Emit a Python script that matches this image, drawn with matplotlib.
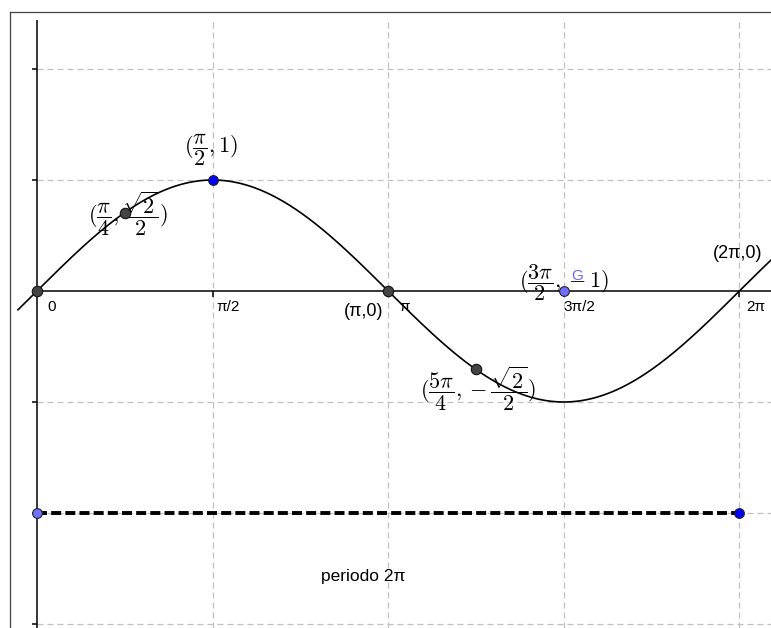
import numpy as np
import matplotlib.pyplot as plt
from matplotlib.lines import Line2D

plt.rcParams['mathtext.fontset'] = 'cm'
plt.rcParams['font.family'] = ['Liberation Sans', 'DejaVu Sans']
plt.rcParams['lines.scale_dashes'] = False

# y = sin(x), drawn from a little left of the origin to the right edge
curve_start = -0.17

# labelled points
dark_x = [0, np.pi / 4, np.pi, 5 * np.pi / 4]
dark_y = [0, np.sqrt(2) / 2, 0, -np.sqrt(2) / 2]
peak_x, peak_y = np.pi / 2, 1
g_x, g_y = 3 * np.pi / 2, 0
zero_2pi_x, zero_2pi_y = 2 * np.pi, 0

# period segment
period_x = [0, 2 * np.pi]
period_y = [-2, -2]

x_ticks = [0, np.pi / 2, np.pi, 3 * np.pi / 2, 2 * np.pi]
x_tick_labels = ['0', 'π/2', 'π', '3π/2', '2π']
y_ticks = [2, 1, -1, -2, -3]

# pixel layout of the view (GeoGebra style)
W, H = 771, 628
ox, oy = 37, 291
sx = 175.6 / (np.pi / 2)
sy = 111.0

fig = plt.figure(figsize=(W / 100, H / 100), dpi=100)
ax = fig.add_axes([0, 0, 1, 1])
ax.set_xlim(-ox / sx, (W - ox) / sx)
ax.set_ylim((oy - H) / sy, oy / sy)
ax.axis('off')
xmin, xmax = ax.get_xlim()
ymin, ymax = ax.get_ylim()

# frame of the graphics view
fig.add_artist(Line2D([10 / W, 10 / W], [0, 1 - 12 / H], color='#444444', lw=0.9))
fig.add_artist(Line2D([10 / W, 1], [1 - 12 / H, 1 - 12 / H], color='#444444', lw=0.9))

# grid
grid_kw = dict(color='#c0c0c0', lw=0.9, linestyles=(0, (4.3, 2.9)), zorder=1)
ax.vlines(x_ticks[1:], ymin, (oy - 22) / sy, **grid_kw)
ax.hlines(y_ticks, 0, xmax, **grid_kw)

# axes
ax.hlines(0, 0, xmax, color='black', lw=1.1, zorder=2)
ax.vlines(0, ymin, (oy - 20) / sy, color='black', lw=1.1, zorder=2)
ax.vlines(x_ticks[1:], -6 / sy, 0, color='black', lw=1.1, zorder=2)
ax.hlines(y_ticks, -5 / sx, 0, color='black', lw=1.1, zorder=2)

tick_dx = [10, 4, 11, 0, 7]
for xt, lab, dx in zip(x_ticks, x_tick_labels, tick_dx):
    ax.annotate(lab, (xt, 0), xytext=(dx, -16), textcoords='offset pixels',
                ha='left', va='center', fontsize=11)

# the function
xs = np.linspace(curve_start, xmax, 600)
ax.plot(xs, np.sin(xs), color='black', lw=1.2, zorder=3)

# period segment
ax.plot(period_x, period_y, color='black', lw=2.8, linestyle=(0, (7.2, 3.0)), zorder=3)
ax.plot(period_x[0], period_y[0], 'o', ms=7, mfc='#7070ff', mec='#222222', mew=0.8, zorder=5)
ax.plot(period_x[1], period_y[1], 'o', ms=7, mfc='#0000ff', mec='#222222', mew=0.8, zorder=5)
ax.annotate('periodo 2π', (np.mean(period_x), period_y[0]), xytext=(-25, -63),
            textcoords='offset pixels', ha='center', va='center', fontsize=12.5)

# points
ax.plot(dark_x, dark_y, 'o', ms=7.5, mfc='#444444', mec='#111111', mew=0.8, zorder=5, linestyle='none')
ax.plot(peak_x, peak_y, 'o', ms=7, mfc='#0000ff', mec='#222222', mew=0.8, zorder=5)
ax.plot(g_x, g_y, 'o', ms=7, mfc='#7070ff', mec='#222222', mew=0.8, zorder=5)

# labels
math_kw = dict(textcoords='offset pixels', ha='center', va='center', fontsize=16, zorder=4)
ax.annotate(r'$(\dfrac{\pi}{2},1)$', (peak_x, peak_y), xytext=(-2, 30), **math_kw)
ax.annotate(r'$(\dfrac{\pi}{4},\dfrac{\sqrt{2}}{2})$', (dark_x[1], dark_y[1]), xytext=(3, -1), **math_kw)
ax.annotate(r'$(\dfrac{5\pi}{4},-\dfrac{\sqrt{2}}{2})$', (dark_x[3], dark_y[3]), xytext=(2, -19), **math_kw)
ax.annotate(r'$(\dfrac{3\pi}{2},-1)$', (g_x, g_y), xytext=(0, 8), **math_kw)
ax.annotate('G', (g_x, g_y), xytext=(13, 15), textcoords='offset pixels',
            ha='center', va='center', fontsize=11, color='#6666ff', zorder=4)
ax.annotate('(π,0)', (dark_x[2], dark_y[2]), xytext=(-25, -20), textcoords='offset pixels',
            ha='center', va='center', fontsize=13)
ax.annotate('(2π,0)', (zero_2pi_x, zero_2pi_y), xytext=(-2, 38), textcoords='offset pixels',
            ha='center', va='center', fontsize=13)

fig.savefig('out.png', dpi=100)
